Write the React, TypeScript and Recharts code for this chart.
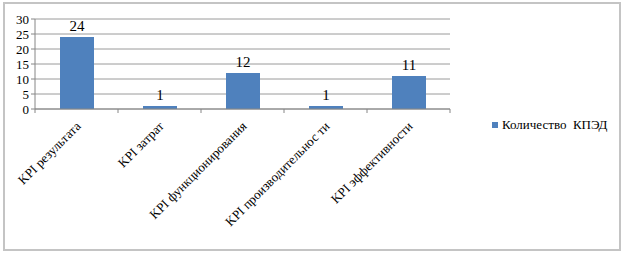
import { BarChart, Bar, XAxis, YAxis, CartesianGrid, LabelList } from "recharts";

const categories = [
  "KPI результата",
  "KPI затрат",
  "KPI  функционирования",
  "KPI производительнос ти",
  "KPI эффективности",
];
const counts = [24, 1, 12, 1, 11];
const yTicks = [0, 5, 10, 15, 20, 25, 30];
const seriesName = "Количество  КПЭД";

const data = categories.map((name, i) => ({ name, value: counts[i] }));

const FONT = "'Liberation Serif', 'Times New Roman', serif";
const BAND = 83;

function CategoryTick(props: any) {
  const { x, y, payload, index } = props;
  const tx = x + 5;
  const ty = y + 10;
  return (
    <g>
      <line x1={x - BAND / 2} y1={y - 8} x2={x - BAND / 2} y2={y - 4} stroke="#868686" />
      {index === categories.length - 1 && (
        <line x1={x + BAND / 2} y1={y - 8} x2={x + BAND / 2} y2={y - 4} stroke="#868686" />
      )}
      <text
        x={tx}
        y={ty}
        transform={`rotate(-45 ${tx} ${ty})`}
        textAnchor="end"
        style={{ fontFamily: FONT }}
        fontSize={13}
        fill="#000"
      >
        {payload.value}
      </text>
    </g>
  );
}

export default function App() {
  return (
    <div style={{ position: "absolute", left: 0, top: 0, width: 623, height: 255, background: "#fff" }}>
      <div
        style={{
          position: "absolute",
          left: 3,
          top: 2,
          width: 614,
          height: 245,
          border: "2px solid #c4c4c4",
        }}
      />
      <BarChart
        width={623}
        height={255}
        data={data}
        margin={{ top: 19, right: 173, left: 0, bottom: 0 }}
        barCategoryGap={0}
        style={{ position: "absolute", left: 0, top: 0 }}
      >
        <CartesianGrid vertical={false} stroke="#9a9a9a" />
        <XAxis
          dataKey="name"
          interval={0}
          height={146}
          axisLine={{ stroke: "#868686" }}
          tickLine={false}
          tick={<CategoryTick />}
        />
        <YAxis
          width={35}
          domain={[0, 30]}
          ticks={yTicks}
          interval={0}
          axisLine={{ stroke: "#868686" }}
          tickLine={{ stroke: "#868686" }}
          tickSize={4}
          tick={{ fontSize: 13, fill: "#000", style: { fontFamily: FONT } }}
        />
        <Bar dataKey="value" name={seriesName} fill="#4f81bd" barSize={34} isAnimationActive={false}>
          <LabelList dataKey="value" position="top" offset={6} fontSize={15} fill="#000" style={{ fontFamily: FONT }} />
        </Bar>
      </BarChart>
      {/* legend */}
      <div
        style={{
          position: "absolute",
          left: 492,
          top: 117,
          display: "flex",
          alignItems: "center",
          fontFamily: FONT,
          fontSize: 13,
          color: "#000",
        }}
      >
        <span style={{ display: "inline-block", width: 6, height: 6, background: "#4f81bd", marginRight: 4 }} />
        <span style={{ whiteSpace: "pre" }}>{seriesName}</span>
      </div>
    </div>
  );
}
